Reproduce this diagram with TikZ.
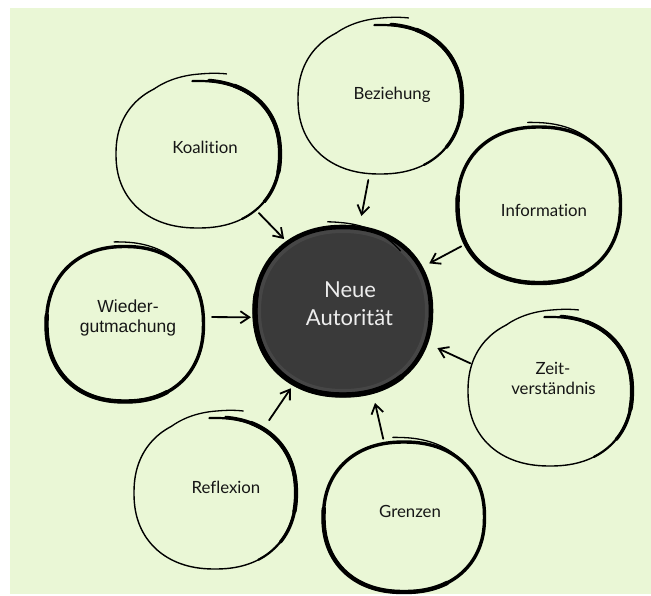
\documentclass[tikz,border=0pt]{standalone}
\usepackage{fontspec}
\setmainfont{Lato}[Ligatures={NoCommon}]
\newfontfamily\arialf{Liberation Sans}
\usetikzlibrary{arrows.meta,shapes.geometric}
\definecolor{bggreen}{HTML}{EAF7D6}
\definecolor{neuefill}{HTML}{3A3A3A}
\definecolor{neuerim}{HTML}{5E5E5E}
\definecolor{txt}{HTML}{161616}
% superellipse arc: cx cy rx ry from to exponent
\newcommand\eggp[7]{plot[domain=#5:#6, samples=72, smooth, variable=\t]({#1+#3*cos(\t)*pow(abs(cos(\t))+0.0001,#7-1)},{#2-#4*sin(\t)*pow(abs(sin(\t))+0.0001,#7-1)})}
% tail arc with radial offset going from #8 to #9
\newcommand\eggt[9]{plot[domain=#5:#6, samples=30, smooth, variable=\t]({#1+(#3+#8+(#9-#8)*(#5-\t)/(#5-#6))*cos(\t)*pow(abs(cos(\t))+0.0001,#7-1)},{#2-(#4+#8+(#9-#8)*(#5-\t)/(#5-#6))*sin(\t)*pow(abs(sin(\t))+0.0001,#7-1)})}
\newcommand\ex{0.9}
% pattern A: thin ring, thick right side, diverging tail
\newcommand\ringA[4]{%
  \draw[line width=1.4pt] \eggp{#1}{#2}{#3}{#4}{-55}{-240}{\ex};
  \draw[line width=1.3pt] \eggt{#1}{#2}{#3}{#4}{120}{74}{\ex}{0}{9};
  \draw[line width=2.2pt] \eggt{#1}{#2}{#3}{#4}{93}{-60}{\ex}{-1}{0};
  \draw[line width=3.3pt] \eggp{#1}{#2}{#3}{#4}{84}{-38}{\ex};
  \draw[line width=4.2pt] \eggp{#1}{#2}{#3}{#4}{66}{-12}{\ex};
}
% pattern B: thick ring with thin outer tail
\newcommand\ringB[4]{%
  \draw[line width=3.4pt] \eggp{#1}{#2}{#3}{#4}{0}{360}{\ex};
  \draw[line width=4.4pt] \eggp{#1}{#2}{#3}{#4}{175}{300}{\ex};
  \draw[line width=1.3pt] \eggt{#1}{#2}{#3}{#4}{96}{44}{\ex}{5}{0};
}
\tikzset{
  hub/.style={ellipse, inner sep=0pt, outer sep=0pt},
  lbl/.style={anchor=base, inner sep=0pt, text=txt, font=\fontsize{16.8}{19}\selectfont},
  albl/.style={anchor=base, inner sep=0pt, text=txt, font=\arialf\fontsize{17.5}{20}\selectfont},
  nlbl/.style={anchor=base, inner sep=0pt, text=white!93!black, font=\fontsize{22}{26}\selectfont},
  arr/.style={line width=1.8pt, -{Straight Barb[length=9pt,width=12pt]}},
}
\begin{document}
\begin{tikzpicture}[x=1pt,y=-1pt,line cap=round,line join=round]
\useasboundingbox (0,0) rectangle (651,595);
\fill[white] (0,0) rectangle (651,595);
\fill[bggreen] (10,8) rectangle (651,594);

% shape nodes (for anchors)
\node[hub, minimum width=180pt, minimum height=172pt] (neue) at (343,311) {};
\node[hub, minimum width=166pt, minimum height=150pt] (koal) at (198,154) {};
\node[hub, minimum width=166pt, minimum height=152pt] (bez) at (380,99) {};
\node[hub, minimum width=166pt, minimum height=158pt] (info) at (539,205) {};
\node[hub, minimum width=160pt, minimum height=158pt] (wied) at (125,324) {};
\node[hub, minimum width=166pt, minimum height=152pt] (zeit) at (550,391) {};
\node[hub, minimum width=164pt, minimum height=154pt] (refl) at (215,493) {};
\node[hub, minimum width=164pt, minimum height=152pt] (gren) at (404,517) {};

% centre disc
\fill[neuefill] \eggp{343}{311}{88}{84}{0}{360}{0.92} -- cycle;
\draw[neuerim, line width=4pt, opacity=0.35] \eggp{343}{311}{84}{80}{0}{360}{0.92};
\draw[line width=4.6pt] \eggp{343}{311}{88}{84}{0}{360}{0.92};
\draw[line width=5.4pt] \eggp{343}{311}{88}{84}{170}{310}{0.92};
\draw[line width=1.3pt] \eggt{343}{311}{88}{84}{98}{48}{0.92}{6}{-5};

% outer rings
\ringA{198}{154}{82}{74}
\ringA{380}{99}{82}{75}
\ringB{539}{205}{81.5}{78}
\ringB{125}{324}{78.5}{77.5}
\ringA{550}{391}{82}{75}
\ringA{215}{493}{81}{76}
\ringB{404}{517}{80.5}{75}

% labels
\node[nlbl] (neue-a) at (350,297) {Neue};
\node[nlbl] (neue-b) at (349.5,325) {Autorität};
\node[lbl] (koal-t) at (205,153) {Koalition};
\node[lbl] (bez-t) at (392,99) {Beziehung};
\node[lbl] (info-t) at (544,216) {Information};
\node[albl] (wied-a) at (128,312) {Wieder-};
\node[albl] (wied-b) at (128,332) {gutmachung};
\node[lbl] (zeit-a) at (553,374) {Zeit-};
\node[lbl] (zeit-b) at (553.5,394) {verständnis};
\node[lbl] (refl-t) at (226,493) {Reflexion};
\node[lbl] (gren-t) at (410,517) {Grenzen};

% arrows
\draw[arr, shorten <=6pt, shorten >=5.5pt] (koal.-44) -- (neue.129);
\draw[arr, shorten <=5.7pt, shorten >=10.6pt] (bez.-98) -- (neue.79);
\draw[arr, shorten <=6pt, shorten >=9.5pt] (info.-152) -- (neue.29);
\draw[arr, shorten <=7.3pt, shorten >=2.3pt] (wied.5) -- (neue.184);
\draw[arr, shorten <=2.2pt, shorten >=12pt] (zeit.161) -- (neue.-21);
\draw[arr, shorten <=12pt, shorten >=6pt] (refl.53) -- (neue.-124.5);
\draw[arr, shorten <=4.5pt, shorten >=11pt] (gren.105) -- (neue.-70);
\end{tikzpicture}
\end{document}
